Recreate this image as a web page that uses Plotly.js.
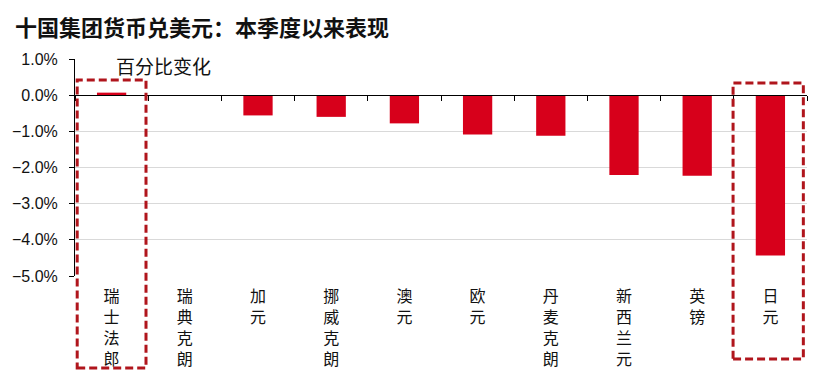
<!DOCTYPE html>
<html>
<head>
<meta charset="utf-8">
<script src="https://cdn.plot.ly/plotly-3.0.1.min.js"></script>
<style>html,body{margin:0;padding:0;background:#fff;}#chart{width:831px;height:376px;}</style>
</head>
<body>
<div id="chart"></div>
<script>
const categories = ['瑞士法郎','瑞典克朗','加元','挪威克朗','澳元','欧元','丹麦克朗','新西兰元','英镑','日元'];
const changes = [0.0007,-0.0002,-0.0056,-0.0060,-0.0078,-0.0109,-0.0112,-0.0221,-0.0223,-0.0443];
const highlighted = ['瑞士法郎','日元'];
const titleText = '十国集团货币兑美元：本季度以来表现';
const seriesName = '百分比变化';
const yTicks = [0.01,0,-0.01,-0.02,-0.03,-0.04,-0.05];

const font = '"Liberation Sans", Arial, "Noto Sans CJK SC", sans-serif';
const cjk = '"Noto Sans CJK SC", "Liberation Sans", sans-serif';

const idx = categories.map((c,i)=>i);
const ticktext = categories.map(c => c.split('').join('<br>'));

const traces = [{
  type:'bar', x: idx, y: changes, marker:{color:'#d7001b'}, width:0.4,
  hoverinfo:'skip', showlegend:false
},{
  type:'scatter', x: idx, y: changes.map(()=>null), xaxis:'x2', yaxis:'y',
  hoverinfo:'skip', showlegend:false
}];

const shapes = highlighted.map((c,k) => {
  const i = categories.indexOf(c);
  const first = k===0;
  return {type:'rect', xref:'x', yref:'paper',
    x0: i + (first?-0.47:-0.51), x1: i + (first?0.47:0.45),
    y0: first?-0.424:-0.382, y1: first?0.903:0.889,
    line:{color:'#b0151c', width:3, dash:'8px,4px'}, fillcolor:'rgba(0,0,0,0)'};
});

const layout = {
  width:831, height:376,
  margin:{l:75, r:24, t:59, b:100},
  paper_bgcolor:'#fff', plot_bgcolor:'#fff',
  title:{text:'<b>'+titleText+'</b>', x:0.018, xanchor:'left', y:0.925, yanchor:'middle',
    font:{family:cjk, size:22, color:'#111'}},
  xaxis:{range:[-0.5,9.5], tickvals: idx, ticktext: ticktext, showgrid:false, zeroline:false,
    showline:false, ticks:'outside', ticklen:6, tickcolor:'rgba(0,0,0,0)',
    tickfont:{family:cjk, size:16, color:'#111'}, fixedrange:true},
  xaxis2:{overlaying:'x', anchor:'free', position:5/6, range:[-0.5,9.5], tick0:0.5, dtick:1,
    showline:true, linecolor:'#000', linewidth:1, ticks:'outside', ticklen:5, tickcolor:'#000',
    showticklabels:false, showgrid:false, zeroline:false},
  yaxis:{range:[-0.05,0.01], tickvals:yTicks, tickformat:'.1%', showgrid:true, gridcolor:'#d9d9d9',
    zeroline:false, showline:true, linecolor:'#000', linewidth:1, ticks:'outside', ticklen:5,
    tickcolor:'#000', ticklabelstandoff:8, tickfont:{family:font, size:16, color:'#111'}},
  shapes: shapes,
  annotations:[{text:seriesName, xref:'paper', yref:'paper', x:0.053, y:0.968, xanchor:'left', yanchor:'middle',
    showarrow:false, font:{family:cjk, size:19, color:'#111'}}],
  bargap:0.6
};

Plotly.newPlot('chart', traces, layout, {displayModeBar:false, staticPlot:true});
</script>
</body>
</html>
